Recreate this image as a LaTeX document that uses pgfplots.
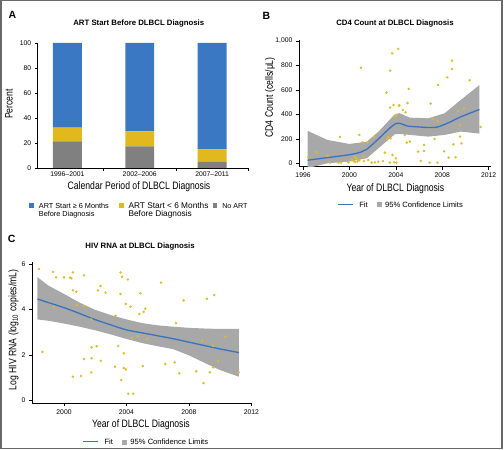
\documentclass[border=0pt]{standalone}
\usepackage{fontspec}
\setmainfont{Liberation Sans}
\newfontfamily\condfont[FakeStretch=0.8]{Liberation Sans}
\usepackage{pgfplots}
\pgfplotsset{compat=1.18}

\definecolor{barblue}{RGB}{58,120,195}
\definecolor{baryel}{RGB}{225,185,30}
\definecolor{bargray}{RGB}{128,128,128}
\definecolor{bandgray}{RGB}{168,168,168}
\definecolor{ptyel}{RGB}{218,188,45}
\definecolor{fitblue}{RGB}{55,115,190}
\definecolor{framegray}{RGB}{105,105,105}

\newcommand{\tl}[1]{\begin{tabular}[t]{@{}l@{}}#1\end{tabular}}

\pgfplotsset{
  panel/.style={
    scale only axis,
    axis x line*=bottom, axis y line*=left,
    tick align=outside,
    major tick length=3pt,
    every tick/.append style={black, line width=0.6pt},
    axis line style={line width=0.6pt, black},
    ticklabel style={font=\fontsize{6.8}{8}\selectfont},
    /pgf/number format/assume math mode=true,
    label style={font=\condfont\fontsize{10.8}{12}\selectfont},
    title style={font=\bfseries\fontsize{7.8}{9}\selectfont, anchor=center},
    legend style={draw=none, fill=none, inner sep=0pt, outer sep=0pt,
      font=\fontsize{7.6}{9}\selectfont, cells={anchor=base west}},
  },
  fitleg/.style={
    legend columns=2,
    legend style={anchor=north west,
      /tikz/every odd column/.append style={column sep=2pt},
      /tikz/every even column/.append style={column sep=7pt}},
  },
  pts/.style={only marks, mark=*, mark size=1.15pt, color=ptyel,
    mark options={draw=ptyel, fill=ptyel, line width=0.2pt, solid}, forget plot},
}

\begin{document}
\begin{tikzpicture}
\useasboundingbox (0,0) rectangle (504pt,450pt);
\draw[framegray, line width=1.5pt] (0.75pt,1.5pt) rectangle (502pt,449.25pt);

\node[font=\bfseries\fontsize{10.5}{12}\selectfont] at (12.5pt,435pt) {A};
\node[font=\bfseries\fontsize{10.5}{12}\selectfont] at (266.5pt,434.5pt) {B};
\node[font=\bfseries\fontsize{10.5}{12}\selectfont] at (11.7pt,211pt) {C};

% ---------------- Panel A
\begin{axis}[panel,
  at={(37.7pt,282pt)}, anchor=south west,
  width=210.6pt, height=125pt,
  ybar stacked, bar width=0.4,
  xmin=-0.41, xmax=2.5, ymin=0, ymax=100,
  ytick={0,20,...,100},
  xtick={0.5,1.5,2.5}, xticklabels={,,},
  extra x ticks={0,1,2},
  extra x tick labels={1996--2001,2002--2006,2007--2011},
  extra x tick style={major tick length=0pt},
  title={ART Start Before DLBCL Diagnosis},
  title style={at={(axis description cs:0.48,1.11)}},
  xlabel={Calendar Period of DLBCL Diagnosis},
  xlabel style={at={(axis description cs:0.481,-0.1496)}, anchor=center},
  ylabel={Percent},
  ylabel style={at={(axis description cs:-0.136,0.512)}, anchor=center},
  legend columns=3,
  legend style={at={(axis description cs:-0.039,-0.256)}, anchor=north west,
    /tikz/every odd column/.append style={column sep=3.5pt},
    /tikz/every even column/.append style={column sep=0pt}},
]
\addplot[fill=bargray, draw=none, forget plot] coordinates {(0,21.3) (1,17.3) (2,4.8)};
\addplot[fill=baryel, draw=none, forget plot] coordinates {(0,10.9) (1,12.0) (2,10.1)};
\addplot[fill=barblue, draw=none, forget plot] coordinates {(0,67.8) (1,70.7) (2,85.1)};
\addlegendimage{legend image code/.code={\fill[barblue] (0pt,0.9pt) rectangle (3.5pt,4.4pt);}}
\addlegendentry{\makebox[78.3pt][l]{\fontsize{7.3}{8.4}\selectfont\tl{ART Start ≥ 6 Months\\Before Diagnosis}}}
\addlegendimage{legend image code/.code={\fill[baryel] (0pt,0.9pt) rectangle (3.5pt,4.4pt);}}
\addlegendentry{\makebox[82.3pt][l]{\fontsize{8.3}{8.4}\selectfont\tl{ART Start < 6 Months\\Before Diagnosis}}}
\addlegendimage{legend image code/.code={\fill[bargray] (0pt,0.9pt) rectangle (3.5pt,4.4pt);}}
\addlegendentry{\fontsize{7.1}{8.4}\selectfont\tl{No ART}}
\end{axis}

% ---------------- Panel B
\begin{axis}[panel, fitleg,
  at={(299pt,283.3pt)}, anchor=south west,
  width=192pt, height=126.3pt,
  xmin=1995.65, xmax=2012.2, ymin=-28, ymax=1005,
  xtick={1996,2000,2004,2008,2012},
  ytick={0,200,...,1000},
  x tick label style={/pgf/number format/1000 sep={}},
  title={CD4 Count at DLBCL Diagnosis},
  title style={at={(axis description cs:0.5,1.088)}},
  xlabel={Year of DLBCL Diagnosis},
  xlabel style={at={(axis description cs:0.502,-0.171)}, anchor=center},
  ylabel={CD4 Count (cells/μL)},
  ylabel style={at={(axis description cs:-0.151,0.548)}, anchor=center},
  legend style={at={(axis description cs:0.2,-0.262)}},
]
\addplot[fill=bandgray, draw=none, forget plot] coordinates {
 (1996.4,265) (1998.1,191) (2000,158) (2001.5,177) (2002.5,259) (2003.9,400)
 (2004.3,410) (2005.2,373) (2006.8,368) (2008.2,409) (2009.6,518) (2011.2,640)
 (2011.2,243) (2009.6,259) (2008.2,232) (2006.8,218) (2005.2,232) (2004.3,240)
 (2003.9,237) (2002.5,123) (2001.5,41) (2000,14) (1998.1,0) (1996.4,-40)
} -- cycle;
\addplot[pts] table {
1996.46 49
1997.18 90
1998.12 63
1998.32 5
1999.04 5
1999.27 5
1999.18 215
1999.90 8
2000.33 20
2000.47 10
2000.62 35
2000.40 55
2000.55 45
2000.70 15
2000.85 25
2000.20 30
2000.85 232
2000.99 782
2001.13 172
2001.19 55
2001.25 19
2001.56 172
2001.62 27
2001.91 5
2002.13 218
2002.19 8
2002.48 12
2002.88 18
2003.05 87
2003.19 578
2003.25 200
2003.37 215
2003.48 5
2003.51 758
2003.51 455
2003.54 205
2003.68 899
2003.71 68
2003.80 477
2003.85 8
2003.91 381
2004.00 40
2004.05 5
2004.05 395
2004.20 935
2004.26 471
2004.31 474
2004.60 436
2004.77 232
2004.83 417
2004.94 169
2005.00 493
2005.11 608
2005.20 177
2005.92 95
2006.15 19
2006.43 150
2006.43 101
2006.92 5
2007.00 488
2007.15 362
2007.34 199
2007.58 5
2007.64 640
2007.64 346
2008.16 98
2008.44 703
2008.55 46
2008.84 839
2008.84 771
2008.95 155
2009.15 49
2009.36 428
2009.53 313
2009.53 218
2009.64 163
2009.87 450
2010.36 679
2011.30 297
};
\addplot[fitblue, line width=1.3pt, forget plot, smooth] coordinates {
 (1996.4,25) (1998,45) (2000,70) (2001,92) (2001.5,115) (2002.5,200) (2003.5,290)
 (2004.0,325) (2004.3,328) (2005.0,305) (2006,297) (2007,292) (2007.6,297)
 (2008.5,330) (2009.6,380) (2011.2,440)
};
\addlegendimage{legend image code/.code={\draw[fitblue, line width=1.3pt] (0pt,2.7pt) -- (15pt,2.7pt); \path (17pt,0pt);}}
\addlegendentry{Fit}
\addlegendimage{legend image code/.code={\fill[bandgray] (0pt,0.8pt) rectangle (4pt,4.6pt);}}
\addlegendentry{95\% Confidence Limits}
\end{axis}

% ---------------- Panel C
\begin{axis}[panel, fitleg,
  at={(32pt,46.7pt)}, anchor=south west,
  width=219.7pt, height=141.6pt,
  xmin=1997.95, xmax=2012.02, ymin=-0.13, ymax=6.1,
  xtick={2000,2004,2008,2012},
  ytick={0,2,4,6},
  x tick label style={/pgf/number format/1000 sep={}},
  title={HIV RNA at DLBCL Diagnosis},
  title style={at={(axis description cs:0.492,1.062)}},
  xlabel={Year of DLBCL Diagnosis},
  xlabel style={at={(axis description cs:0.496,-0.154)}, anchor=center},
  ylabel={Log HIV RNA (log\textsubscript{10} copies/mL)},
  ylabel style={at={(axis description cs:-0.084,0.519)}, anchor=center},
  legend style={at={(axis description cs:0.231,-0.238)}},
]
\addplot[fill=bandgray, draw=none, forget plot] coordinates {
 (1998.3,5.42) (1999,5.05) (2000,4.68) (2001,4.30) (2002,3.98) (2003,3.75) (2004,3.56)
 (2005,3.40) (2006,3.30) (2007,3.24) (2008,3.19) (2009,3.16) (2010,3.14) (2011.2,3.14)
 (2011.2,1.04) (2010,1.33) (2009,1.65) (2008,1.98) (2007,2.25) (2006,2.38) (2005,2.52)
 (2004,2.70) (2003,2.90) (2002,3.08) (2001,3.24) (2000,3.38) (1999,3.50) (1998.3,3.56)
} -- cycle;
\addplot[pts] table {
1998.40 5.78
1999.30 5.65
1999.49 5.41
2000.00 5.41
2000.38 5.40
2000.47 5.37
2000.57 5.63
2001.28 5.50
2000.57 4.84
2000.79 4.78
1999.36 4.12
2000.81 4.19
2001.28 4.15
2001.74 3.56
2002.34 5.03
2002.17 4.84
2002.66 4.74
2003.30 3.72
2003.62 5.63
2003.72 5.44
2004.09 5.32
2003.62 4.68
2003.96 4.24
2004.26 4.12
2004.89 4.71
2004.83 3.80
2005.10 3.89
2005.20 4.03
2004.36 2.74
2004.72 2.83
2005.32 2.71
1998.62 2.13
2001.77 2.33
2002.09 2.38
2003.47 2.39
2001.28 1.82
2001.77 1.85
2002.36 1.74
2003.83 2.07
2003.26 1.48
2003.83 1.42
2003.96 1.36
2005.04 1.51
2000.57 1.04
2001.09 1.07
2001.74 1.23
2003.66 0.89
2004.11 0.29
2004.43 0.29
2006.21 5.18
2007.66 4.40
2009.15 4.47
2009.62 4.63
2007.17 3.40
2008.85 2.62
2009.53 2.40
2010.34 2.80
2009.85 1.73
2009.55 1.45
2009.34 1.23
2008.47 1.28
2008.94 0.76
2007.38 1.19
2007.09 1.67
2006.49 1.60
2011.19 1.23
};
\addplot[fitblue, line width=1.3pt, forget plot, smooth] coordinates {
 (1998.3,4.46) (1999,4.30) (2000,4.08) (2001,3.82) (2002,3.55) (2003,3.32) (2004,3.10)
 (2005,2.97) (2006,2.84) (2007,2.71) (2008,2.56) (2009,2.41) (2010,2.26) (2011.2,2.10)
};
\addlegendimage{legend image code/.code={\draw[fitblue, line width=1.3pt] (0pt,2.7pt) -- (15pt,2.7pt); \path (17pt,0pt);}}
\addlegendentry{Fit}
\addlegendimage{legend image code/.code={\fill[bandgray] (0pt,0.8pt) rectangle (4pt,4.6pt);}}
\addlegendentry{95\% Confidence Limits}
\end{axis}
\end{tikzpicture}
\end{document}
